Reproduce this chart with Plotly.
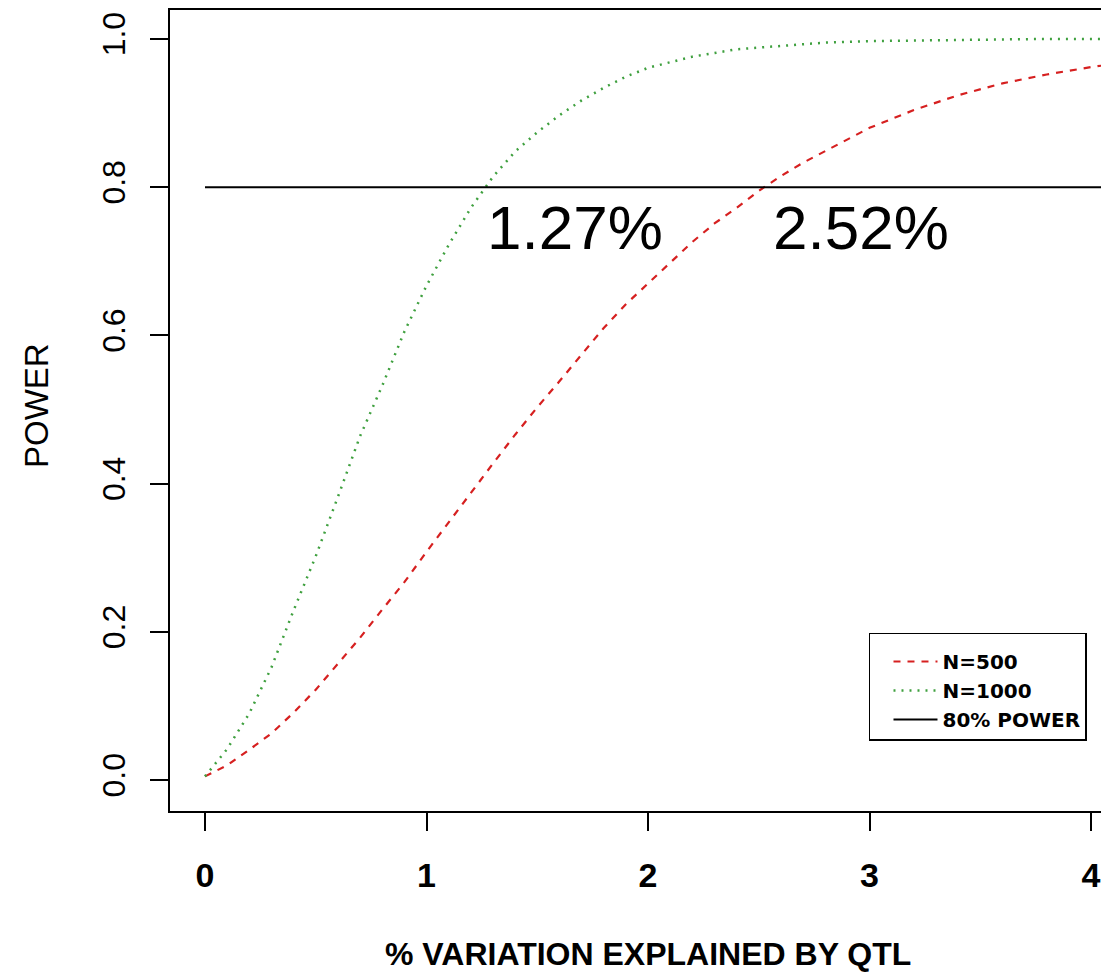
import plotly.graph_objects as go

# N=1000 curve (green dotted)
x_1000 = [0, 0.1, 0.2, 0.3, 0.4, 0.5, 0.6, 0.7, 0.8, 0.9, 1.0, 1.1, 1.2, 1.3, 1.4, 1.5,
          1.6, 1.7, 1.8, 1.9, 2.0, 2.2, 2.4, 2.6, 2.8, 3.0, 3.2, 3.4, 3.6, 3.8, 4.0, 4.1]
p_1000 = [0.005, 0.042, 0.090, 0.152, 0.229, 0.302, 0.382, 0.464, 0.532, 0.605, 0.667,
          0.722, 0.772, 0.814, 0.848, 0.874, 0.897, 0.917, 0.934, 0.949, 0.961, 0.976,
          0.986, 0.991, 0.995, 0.997, 0.998, 0.998, 1.0, 1.0, 1.0, 1.0]

# N=500 curve (red dashed)
x_500 = [0, 0.1, 0.2, 0.3, 0.4, 0.5, 0.6, 0.7, 0.8, 0.9, 1.0, 1.1, 1.2, 1.3, 1.4, 1.5,
         1.6, 1.7, 1.8, 1.9, 2.0, 2.1, 2.2, 2.3, 2.4, 2.5, 2.6, 2.7, 2.8, 2.9, 3.0,
         3.2, 3.4, 3.6, 3.8, 4.0, 4.1]
p_500 = [0.005, 0.020, 0.041, 0.063, 0.091, 0.122, 0.157, 0.192, 0.230, 0.267, 0.308,
         0.348, 0.388, 0.427, 0.466, 0.503, 0.538, 0.574, 0.610, 0.642, 0.670, 0.698,
         0.726, 0.751, 0.772, 0.795, 0.815, 0.833, 0.849, 0.865, 0.880, 0.904, 0.924,
         0.940, 0.952, 0.962, 0.966]

# 80% power reference line
power_x = [0, 4.3]
power_y = [0.8, 0.8]

# Annotated thresholds
thr_labels = ["1.27%", "2.52%"]
thr_x = [1.67, 2.962]
thr_y = [0.745, 0.745]

x_ticks = [0, 1, 2, 3, 4]
y_ticks = [0.0, 0.2, 0.4, 0.6, 0.8, 1.0]
y_ticklabels = ["0.0", "0.2", "0.4", "0.6", "0.8", "1.0"]

FONT = "Arial, Liberation Sans, sans-serif"

fig = go.Figure()
fig.add_trace(go.Scatter(x=x_500, y=p_500, mode="lines", name="<b>N=500</b>",
                         line=dict(color="#D62020", width=2.2, dash="7px,7px")))
fig.add_trace(go.Scatter(x=x_1000, y=p_1000, mode="lines", name="<b>N=1000</b>",
                         line=dict(color="#3FA03F", width=2.5, dash="2px,6px")))
fig.add_trace(go.Scatter(x=power_x, y=power_y, mode="lines", name="<b>80% POWER</b>",
                         line=dict(color="black", width=2)))

for lab, xx, yy in zip(thr_labels, thr_x, thr_y):
    fig.add_annotation(x=xx, y=yy, xref="x", yref="y", text=lab, showarrow=False,
                       font=dict(family=FONT, size=62, color="black"),
                       xanchor="center", yanchor="middle")

# axis titles
fig.add_annotation(x=0.509, y=-0.179, xref="paper", yref="paper",
                   text="<b>% VARIATION EXPLAINED BY QTL</b>", showarrow=False,
                   font=dict(family=FONT, size=32, color="black"),
                   xanchor="center", yanchor="middle")
fig.add_annotation(x=-0.1427, y=0.5056, xref="paper", yref="paper",
                   text="POWER", textangle=-90, showarrow=False,
                   font=dict(family=FONT, size=33, color="black"),
                   xanchor="center", yanchor="middle")

fig.update_layout(
    width=1101, height=966,
    margin=dict(l=162, r=0, t=0, b=163),
    paper_bgcolor="white", plot_bgcolor="white",
    font=dict(family=FONT, color="black"),
    showlegend=True,
    legend=dict(x=0.7444, y=0.2226, xanchor="left", yanchor="top",
                bordercolor="black", borderwidth=1.5, bgcolor="white",
                font=dict(family="DejaVu Sans, sans-serif", size=20, color="black"),
                title=dict(text="&nbsp;", font=dict(size=6)),
                indentation=18, itemwidth=44, tracegroupgap=0),
)
fig.update_xaxes(range=[-0.158, 4.081], tickvals=x_ticks,
                 ticktext=["<b>%d</b>" % v for v in x_ticks],
                 showgrid=False, zeroline=False, showline=True, linecolor="black",
                 linewidth=2, mirror=True, ticks="outside", ticklen=18, tickwidth=2,
                 tickcolor="black", tickfont=dict(family=FONT, size=34, color="black"),
                 ticklabelstandoff=15)
fig.update_yaxes(range=[-0.0417, 1.039], tickvals=y_ticks, ticktext=y_ticklabels,
                 showgrid=False, zeroline=False, showline=True, linecolor="black",
                 linewidth=2, ticks="outside", ticklen=18, tickwidth=2,
                 tickcolor="black", tickangle=-90,
                 tickfont=dict(family=FONT, size=32, color="black"),
                 ticklabelstandoff=12)

fig.write_html("out.html")
